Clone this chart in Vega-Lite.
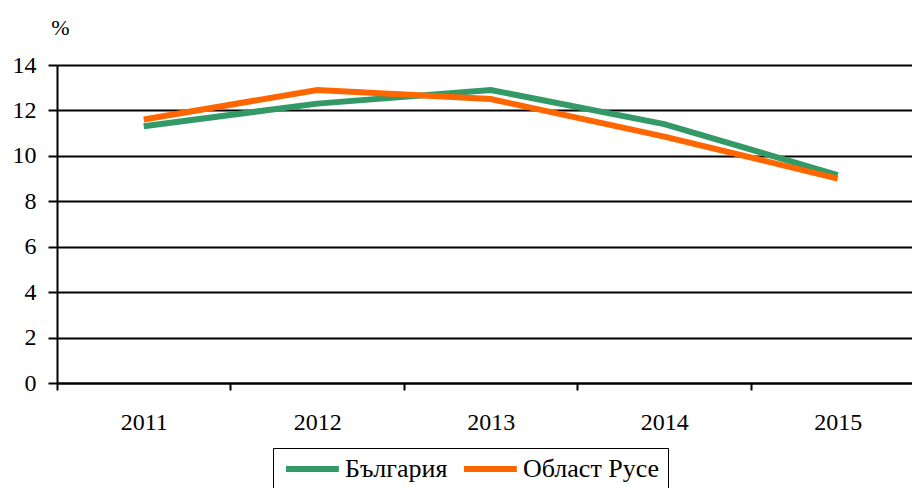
{
  "$schema": "https://vega.github.io/schema/vega-lite/v6.json",
  "width": 855,
  "height": 318,
  "autosize": {"type": "none"},
  "padding": {"left": 57, "top": 65, "right": 0, "bottom": 105},
  "background": "white",
  "config": {
    "font": "Liberation Serif",
    "view": {"stroke": null},
    "axis": {"labelFont": "Liberation Serif", "titleFont": "Liberation Serif", "labelColor": "black", "titleColor": "black"},
    "legend": {"labelFont": "Liberation Serif"}
  },
  "data": {
    "values": [
      {"year": 2011, "series": "България", "value": 11.3},
      {"year": 2012, "series": "България", "value": 12.3},
      {"year": 2013, "series": "България", "value": 12.9},
      {"year": 2014, "series": "България", "value": 11.4},
      {"year": 2015, "series": "България", "value": 9.15},
      {"year": 2011, "series": "Област Русе", "value": 11.6},
      {"year": 2012, "series": "Област Русе", "value": 12.9},
      {"year": 2013, "series": "Област Русе", "value": 12.5},
      {"year": 2014, "series": "Област Русе", "value": 10.85},
      {"year": 2015, "series": "Област Русе", "value": 9.0}
    ]
  },
  "mark": {"type": "line", "strokeWidth": 6, "strokeCap": "butt", "strokeJoin": "miter"},
  "encoding": {
    "x": {
      "field": "year",
      "type": "quantitative",
      "scale": {"domain": [2010.5, 2015.428], "nice": false, "zero": false},
      "axis": {
        "values": [2010.5, 2011.5, 2012.5, 2013.5, 2014.5],
        "labelExpr": "format(datum.value + 0.5, 'd')",
        "labelOffset": 86.75,
        "labelFont": "Liberation Serif",
        "labelFontSize": 24,
        "labelPadding": 20,
        "labelOverlap": false,
        "labelFlush": false,
        "tickSize": 7,
        "tickWidth": 2,
        "tickColor": "black",
        "domain": true,
        "domainColor": "black",
        "domainWidth": 2,
        "grid": false,
        "title": null
      }
    },
    "y": {
      "field": "value",
      "type": "quantitative",
      "scale": {"domain": [0, 14], "nice": false},
      "axis": {
        "values": [0, 2, 4, 6, 8, 10, 12, 14],
        "grid": true,
        "gridColor": "black",
        "gridWidth": 2,
        "gridOpacity": 1,
        "domain": true,
        "domainColor": "black",
        "domainWidth": 2,
        "tickColor": "black",
        "tickWidth": 2,
        "tickSize": 9,
        "labelPadding": 12,
        "labelFont": "Liberation Serif",
        "labelFontSize": 24,
        "title": "%",
        "titleFont": "Liberation Serif",
        "titleAngle": 0,
        "titleFontSize": 22,
        "titleFontWeight": "normal",
        "titleX": 3,
        "titleY": -31,
        "titleAlign": "center",
        "titleBaseline": "alphabetic"
      }
    },
    "color": {
      "field": "series",
      "type": "nominal",
      "scale": {"domain": ["България", "Област Русе"], "range": ["#339966", "#FF6600"]},
      "legend": {
        "title": null,
        "orient": "none",
        "legendX": 216,
        "legendY": 383,
        "direction": "horizontal",
        "symbolType": "M-1,0H5.6",
        "symbolSize": 256,
        "symbolStrokeWidth": 6,
        "symbolFillColor": "transparent",
        "labelFont": "Liberation Serif",
        "labelFontSize": 26,
        "labelColor": "black",
        "labelOffset": 38,
        "columnPadding": 4,
        "padding": 8,
        "strokeColor": "black",
        "fillColor": "white",
        "labelLimit": 300
      }
    }
  }
}
